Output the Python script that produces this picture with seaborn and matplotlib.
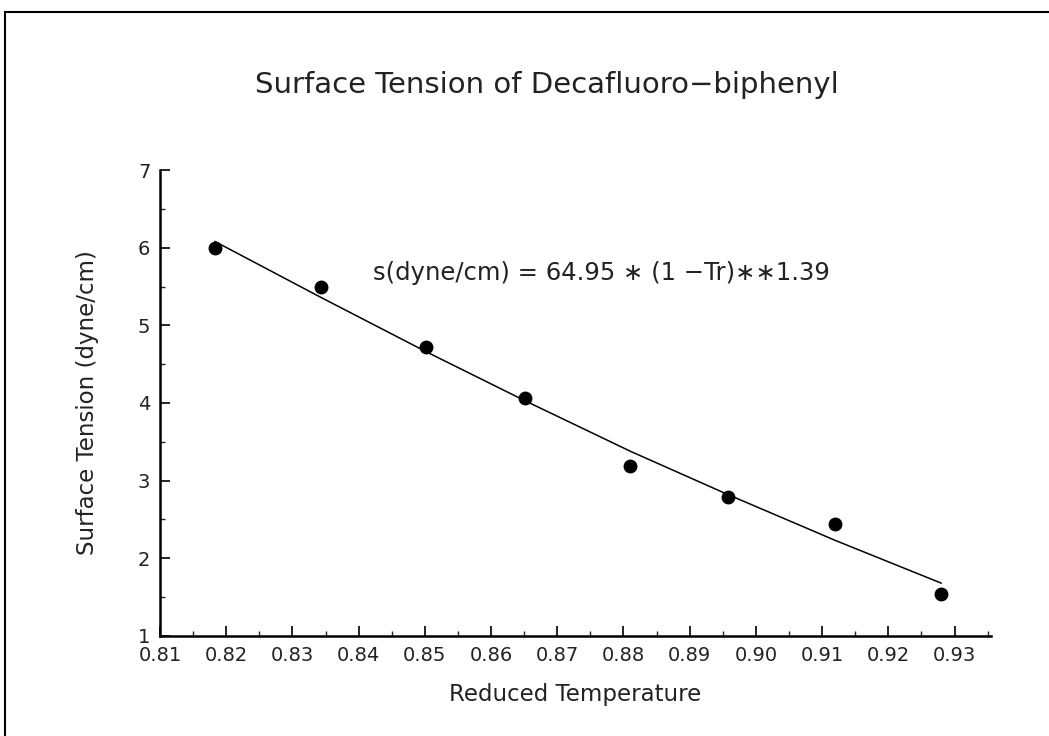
import matplotlib
matplotlib.use("Agg")
import matplotlib.pyplot as plt
import matplotlib.patches as mpatches
from matplotlib.ticker import MultipleLocator, FormatStrFormatter
import seaborn as sns
import pandas as pd

# Data
reduced_temp = [0.8183, 0.8343, 0.8502, 0.8651, 0.8810, 0.8958, 0.9120, 0.9280]
surface_tension = [6.00, 5.49, 4.72, 4.07, 3.19, 2.79, 2.44, 1.54]
fit_tension = [6.08, 5.36, 4.66, 4.03, 3.38, 2.82, 2.23, 1.68]

title = "Surface Tension of Decafluoro\u2212biphenyl"
xlabel = "Reduced Temperature"
ylabel = "Surface Tension (dyne/cm)"
equation = "s(dyne/cm) = 64.95 \u2217 (1 \u2212Tr)\u2217\u22171.39"

sns.set_theme(style="ticks")
plt.rcParams['font.family'] = ['DejaVu Sans']

df = pd.DataFrame({"Tr": reduced_temp, "s": surface_tension, "fit": fit_tension})

fig = plt.figure(figsize=(10.49, 7.36), dpi=100)
ax = fig.add_axes([0.1525, 0.1359, 0.7922, 0.6331])

sns.lineplot(data=df, x="Tr", y="fit", ax=ax, color="black", linewidth=1.1)
sns.scatterplot(data=df, x="Tr", y="s", ax=ax, color="black", s=100, edgecolor="black", linewidth=0)

ax.set_xlim(0.81, 0.9355)
ax.set_ylim(1, 7)
ax.xaxis.set_major_locator(MultipleLocator(0.01))
ax.xaxis.set_minor_locator(MultipleLocator(0.005))
ax.xaxis.set_major_formatter(FormatStrFormatter("%.2f"))
ax.yaxis.set_major_locator(MultipleLocator(1))
ax.yaxis.set_minor_locator(MultipleLocator(0.5))
ax.yaxis.set_major_formatter(FormatStrFormatter("%d"))

for s in ["top", "right"]:
    ax.spines[s].set_visible(False)
for s in ["left", "bottom"]:
    ax.spines[s].set_linewidth(1.8)
    ax.spines[s].set_color("black")

ax.tick_params(axis="both", which="major", direction="in", length=7, width=1.2,
               labelsize=14, colors="black", labelcolor="#222222", pad=7)
ax.tick_params(axis="both", which="minor", direction="in", length=3.5, width=1.0)

ax.set_xlabel(xlabel, fontsize=16.5, labelpad=13, color="#222222")
ax.set_ylabel(ylabel, fontsize=16.5, labelpad=28, color="#222222")

ax.text(0.8766, 5.68, equation, fontsize=17.5, ha="center", va="center", color="#222222")

fig.text(0.5215, 0.8845, title, fontsize=21, ha="center", va="center", color="#222222")

# outer frame of the scanned page
fig.patches.append(mpatches.Rectangle((0.005, -0.05), 1.2, 1.034, transform=fig.transFigure,
                                      fill=False, edgecolor="black", linewidth=1.5))

fig.savefig("out.png", dpi=100, facecolor="white")
